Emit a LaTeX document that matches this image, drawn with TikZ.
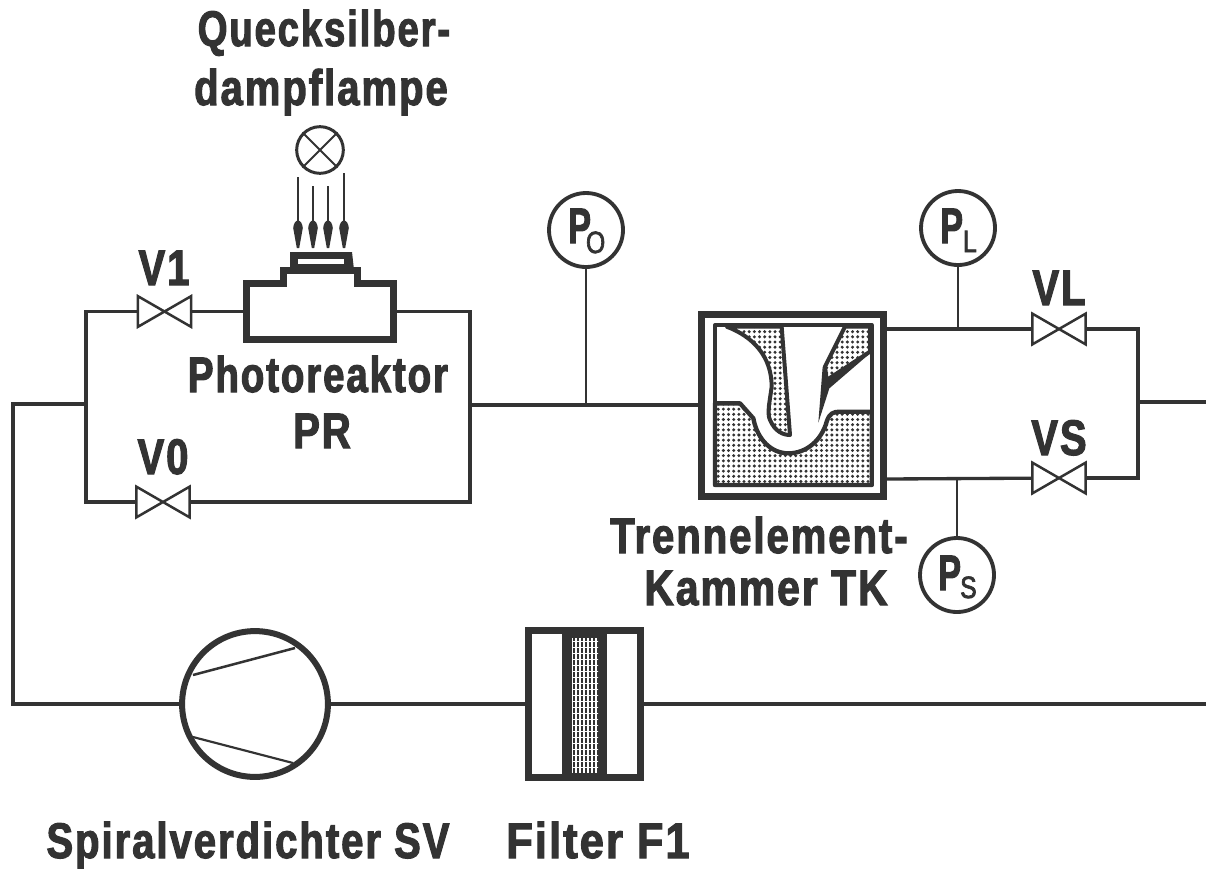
\documentclass[tikz,border=0pt]{standalone}
\usepackage{fontspec}
\setmainfont{Liberation Sans}[FakeStretch=0.80,LetterSpace=4,FakeBold=2.2]
\usetikzlibrary{patterns.meta,arrows.meta}
\definecolor{ink}{HTML}{333333}
\tikzset{
  pipe/.style={draw=ink,line width=2pt},
  tapline/.style={draw=ink,line width=1.4pt},
  thinline/.style={draw=ink,line width=1.5pt},
  wall/.style={draw=ink,line width=4.2pt,line join=miter},
  valvebox/.style={rectangle,minimum width=31.5pt,minimum height=18pt,inner sep=0pt,fill=white},
  gauge/.style={circle,draw=ink,line width=2.3pt,minimum size=44.4pt,inner sep=0pt,fill=white},
  lbl/.style={font=\bfseries\fontsize{30}{30}\selectfont,text=ink,anchor=base,inner sep=0pt},
  mainp/.style={lbl,anchor=base west},
  dotfill/.style={pattern={Dots[distance=3.1pt,radius=1pt]},pattern color=ink},
  ray/.style={draw=ink,line width=1.5pt},
  rayhead/.style={fill=ink,draw=none},
}
\newcommand{\valvefig}[1]{\draw[thinline,line join=miter] (#1.north west) -- (#1.south east) -- (#1.north east) -- (#1.south west) -- cycle;}
\newcommand{\rayfig}[3]{\coordinate (r#1s) at (#2,#3); \coordinate (r#1e) at (#2,230);
  \draw[ray] (r#1s) -- (r#1e);
  \fill[rayhead] (#2-4.8,228) .. controls (#2-4,218) and (#2+4,218) .. (#2+4.8,228) -- (#2+1.2,248) -- (#2-1.2,248) -- cycle;}
\newcommand{\sx}[2]{\scalebox{#1}[1]{#2}}
\newcommand{\gaugetext}[3]{\sx{.85}{P}\kern#1pt\raisebox{#2pt}{\mdseries\fontsize{18.5}{18.5}\selectfont #3}}
\begin{document}
\begin{tikzpicture}[x=0.6pt,y=-0.6pt]
\useasboundingbox (0,0) rectangle (1206,869);
% junctions
\coordinate (wl1) at (13,404);
\coordinate (wl2) at (13,704);
\coordinate (jl) at (86,404);
\coordinate (jlt) at (86,311.5);
\coordinate (jlb) at (86,502);
\coordinate (jr) at (470,405);
\coordinate (jrt) at (470,311.5);
\coordinate (jrb) at (470,502);
\coordinate (jp) at (586,405);
\coordinate (jbr) at (1138,402);
\coordinate (jbrt) at (1138,329);
\coordinate (jbrb) at (1138,478);
\coordinate (edge1) at (1206,402);
\coordinate (edge2) at (1206,704);
\coordinate (jpl) at (958,329);
\coordinate (jps) at (957,478.5);
\coordinate (tkt) at (887,329);
\coordinate (tkb) at (887,479);
\coordinate (tkl) at (698,405);
\coordinate (prl) at (243,311.5);
\coordinate (prr) at (397,311.5);
\coordinate (fl) at (525,704);
\coordinate (fr) at (644,704);

% compressor
\node[circle,draw=ink,line width=3.6pt,minimum size=87.5pt,inner sep=0pt,fill=white] (SV) at (255,704) {};
\draw[thinline] (193,675) -- (295,648);
\draw[thinline,line width=1.3pt] (193,737) -- (293,763);

% valves
\node[valvebox] (V1) at (164.5,311.5) {};
\node[valvebox] (V0) at (163,502) {};
\node[valvebox] (VL) at (1059,329) {};
\node[valvebox] (VS) at (1059,478) {};

% gauges
\node[gauge] (P0) at (586,230) {};
\node[gauge] (PL) at (958,228) {};
\node[gauge] (PS) at (957,575) {};

% pipes
\draw[pipe,line join=miter] (jl) -- (wl1) -- (wl2) -- (SV.west);
\draw[pipe] (prl) -- (V1);
\draw[pipe,line join=miter] (V1) -- (jlt) -- (jlb) -- (V0);
\draw[pipe,line join=miter] (V0) -- (jrb) -- (jrt) -- (prr);
\draw[pipe] (jr) -- (tkl);
\draw[tapline] (jp) -- (P0.south);
\draw[pipe] (tkt) -- (VL);
\draw[pipe,line join=miter] (VL) -- (jbrt) -- (jbrb) -- (VS);
\draw[pipe] (VS) -- (tkb);
\draw[pipe] (jbr) -- (edge1);
\draw[tapline] (jpl) -- (PL.south);
\draw[tapline] (jps) -- (PS.north);
\draw[pipe] (SV.east) -- (fl);
\draw[pipe] (fr) -- (edge2);
\valvefig{V1}\valvefig{V0}\valvefig{VL}\valvefig{VS}

% gauge labels
\node[mainp] (P0a) at (568,243) {\gaugetext{-3}{-6}{O}};
\node[mainp] (PLa) at (940,243) {\gaugetext{0}{-5.4}{L}};
\node[mainp] (PSa) at (938,590) {\gaugetext{-.5}{-4.8}{S}};

% lamp
\node[circle,draw=ink,line width=1.8pt,minimum size=28pt,inner sep=0pt] (lamp) at (320,150) {};
\draw[thinline,line width=1.1pt] (lamp.45) -- (lamp.225) (lamp.135) -- (lamp.315);
\rayfig{1}{298}{177}\rayfig{2}{313}{186}\rayfig{3}{328}{186}\rayfig{4}{344}{173}

% photoreactor
\draw[wall,fill=white] (246.5,283.5) -- (283,283.5) -- (283,270) -- (357,270) -- (357,283.5) -- (393.5,283.5) -- (393.5,339.5) -- (246.5,339.5) -- cycle;
\fill[ink] (290,252) -- (352,252) -- (354,270) -- (290,270) -- cycle;
\fill[white] (298,259) rectangle (344,264);

% separation chamber
\draw[draw=ink,line width=4.2pt] (701.5,314.5) rectangle (883.5,496.5);
\begin{scope}[shift={(670,290)},x=0.2pt,y=-0.2pt]
  \draw[draw=ink,line width=2.4pt,line join=round,fill=white] (135,105) rectangle (605,585);
  \draw[draw=ink,line width=2.6pt,line join=round,dotfill]
    (135,340) -- (210,340) -- (250,385) .. controls (262,450) and (305,490) .. (355,490)
    .. controls (410,490) and (455,450) .. (470,395) .. controls (478,370) and (490,365) .. (510,365)
    -- (605,365) -- (605,585) -- (135,585) -- cycle;
  \draw[draw=ink,line width=2.4pt,line join=round,dotfill]
    (170,110) .. controls (250,140) and (305,200) .. (305,290)
    .. controls (300,330) and (290,370) .. (300,390) .. controls (315,425) and (340,435) .. (360,435)
    -- (335,110) -- cycle;
  \draw[draw=ink,line width=2.4pt,line join=round,dotfill]
    (525,110) -- (465,230) -- (470,270) -- (600,185) -- (600,110) -- cycle;
  \fill[ink] (458,230) -- (445,398) -- (478,295) -- (600,190) -- (600,180) -- (472,268) -- cycle;
\end{scope}

% filter
\fill[ink] (525,627) rectangle (644,781);
\fill[white] (532,634) rectangle (562,774);
\fill[white] (607,634) rectangle (637,774);
\fill[pattern={Lines[angle=90,distance=2.4pt,line width=1pt]},pattern color=white] (572,638) rectangle (598,772);
\fill[pattern={Lines[angle=0,distance=3.6pt,line width=.5pt]},pattern color=white] (572,638) rectangle (598,772);

% labels
\node[lbl] (t1) at (324,46) {\sx{.955}{Quecksilber-}};
\node[lbl] (t2) at (321,105) {dampflampe};
\node[lbl] (lv1) at (164,285) {V1};
\node[lbl] (lv0) at (163,474) {V0};
\node[lbl] (lvl) at (1059,305) {VL};
\node[lbl] (lvs) at (1059,455) {VS};
\node[lbl] (t3) at (318,392) {\sx{.96}{Photoreaktor}};
\node[lbl] (t4) at (322,448) {PR};
\node[lbl] (t5) at (759,553) {Trennelement-};
\node[lbl] (t6) at (766,605) {\sx{1.02}{Kammer TK}};
\node[lbl] (t7) at (248,858) {Spiralverdichter SV};
\node[lbl] (t8) at (598,858) {\sx{1.08}{Filter F1}};
\end{tikzpicture}
\end{document}
